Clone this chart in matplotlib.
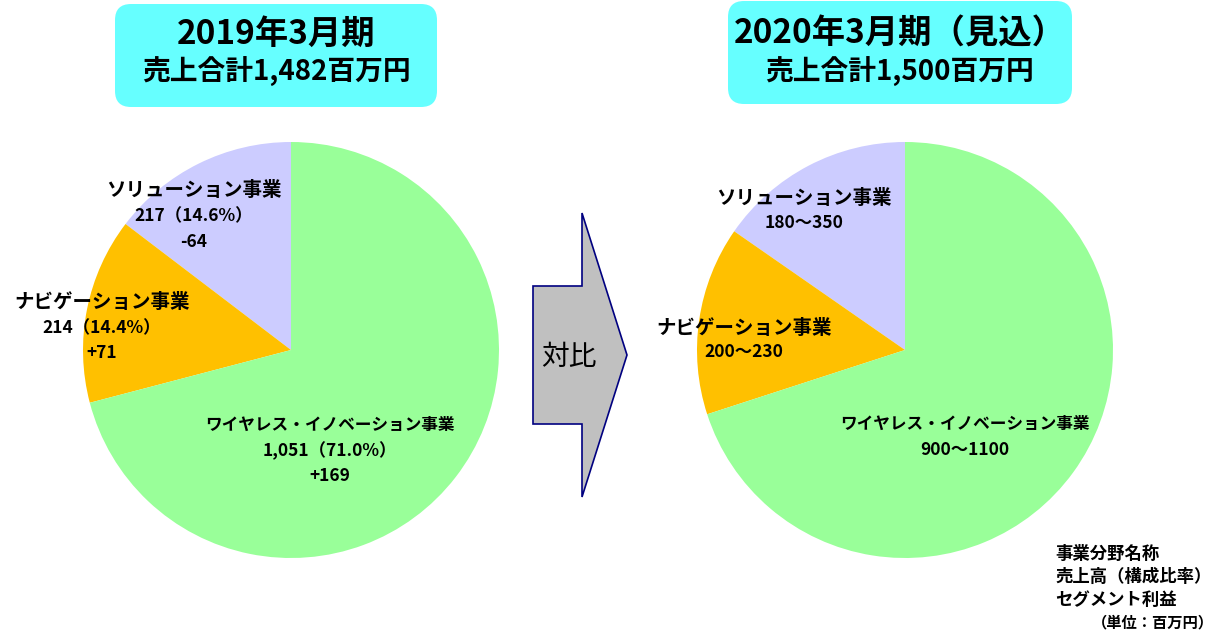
import matplotlib
matplotlib.use("Agg")
import matplotlib.pyplot as plt
from matplotlib.patches import FancyBboxPatch, Polygon

plt.rcParams['font.family'] = ['Noto Sans CJK JP', 'DejaVu Sans']

W, H = 1216, 631

# data
segments = ['ソリューション事業', 'ナビゲーション事業', 'ワイヤレス・イノベーション事業']
colors = ['#CCCCFF', '#FFC000', '#99FF99']

sales_2019 = [217, 214, 1051]
share_2019 = [14.6, 14.4, 71.0]
profit_2019 = ['-64', '+71', '+169']

# 2020 forecast ranges, and slice sizes
range_2020 = ['180～350', '200～230', '900～1100']
slices_2020 = [230, 220, 1050]

titles = ['2019年3月期', '2020年3月期（見込）']
totals = ['売上合計1,482百万円', '売上合計1,500百万円']

legend_lines = ['事業分野名称', '売上高（構成比率）', 'セグメント利益']
unit_text = '（単位：百万円）'


def Y(y):
    # picture coords (top=0) to axes coords (bottom=0)
    return H - y


fig = plt.figure(figsize=(W / 100, H / 100), dpi=100)
ax = fig.add_axes([0, 0, 1, 1])

radius = 208
centers = [(291, Y(350)), (905, Y(350))]

ax.pie(sales_2019, colors=colors, startangle=90, counterclock=True,
       center=centers[0], radius=radius, wedgeprops=dict(linewidth=0))
ax.pie(slices_2020, colors=colors, startangle=90, counterclock=True,
       center=centers[1], radius=radius, wedgeprops=dict(linewidth=0))

ax.set_xlim(0, W)
ax.set_ylim(0, H)
ax.set_aspect('equal')
ax.axis('off')

# title boxes
boxes = [(115, 4, 437, 107), (728, 1, 1072, 104)]
for (x0, y0, x1, y1), t1, t2 in zip(boxes, titles, totals):
    ax.add_patch(FancyBboxPatch((x0, Y(y1)), x1 - x0, y1 - y0,
                                boxstyle="round,pad=0,rounding_size=16",
                                facecolor='#66FFFF', edgecolor='none'))
    cx = (x0 + x1) / 2
    ax.text(cx, Y(34), t1, ha='center', va='center', fontsize=24, fontweight='bold')
    ax.text(cx, Y(72), t2, ha='center', va='center', fontsize=20, fontweight='bold')


def label(x, ys, lines, size=14):
    for i, (y, s) in enumerate(zip(ys, lines)):
        ax.text(x, Y(y), s, ha='center', va='center',
                fontsize=size if i == 0 else 12.5, fontweight='bold')


# left pie labels
left_pos = [(194, [190, 216, 242]), (102, [302, 328, 353]), (330, [425, 451, 476])]
for i, (x, ys) in enumerate(left_pos):
    lines = [segments[i], f'{sales_2019[i]:,}（{share_2019[i]:.1f}%）', profit_2019[i]]
    label(x, ys, lines, size=12 if i == 2 else 14)

# right pie labels
right_pos = [(804, [199, 223]), (744, [328, 352]), (965, [424, 450])]
for i, (x, ys) in enumerate(right_pos):
    label(x, ys, [segments[i], range_2020[i]], size=12 if i == 2 else 14)

# comparison arrow
arrow = [(533, 286), (582, 286), (582, 213), (627, 355), (582, 497), (582, 424), (533, 424)]
ax.add_patch(Polygon([(x, Y(y)) for x, y in arrow], closed=True,
                     facecolor='#C0C0C0', edgecolor='#000080', linewidth=1.2))
ax.text(569, Y(357), '対比', ha='center', va='center', fontsize=20)

# legend note, bottom right
for y, s in zip([554, 577, 600], legend_lines):
    ax.text(1055, Y(y), s, ha='left', va='center', fontsize=12.5, fontweight='bold')
ax.text(1214, Y(622), unit_text, ha='right', va='center', fontsize=11, fontweight='bold')

fig.savefig('out.png', dpi=100)
